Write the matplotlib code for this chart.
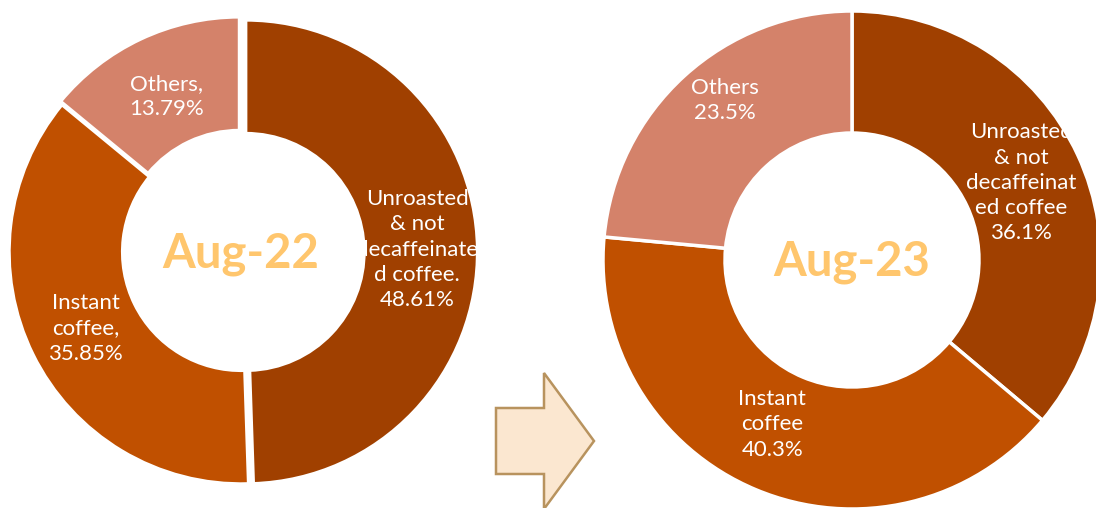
import matplotlib
matplotlib.use("Agg")
import matplotlib.pyplot as plt
from matplotlib.patches import Polygon

plt.rcParams["font.family"] = ["Lato", "DejaVu Sans"]

# data
categories = ["Unroasted & not decaffeinated coffee", "Instant coffee", "Others"]
aug22_values = [48.61, 35.85, 13.79]
aug23_values = [36.1, 40.3, 23.5]
aug22_labels = ["Unroasted\n& not\ndecaffeinate\nd coffee.\n48.61%",
                "Instant\ncoffee,\n35.85%",
                "Others,\n13.79%"]
aug23_labels = ["Unroasted\n& not\ndecaffeinat\ned coffee\n36.1%",
                "Instant\ncoffee\n40.3%",
                "Others\n23.5%"]
titles = ["Aug-22", "Aug-23"]

colors = ["#A04000", "#C05000", "#D4826A"]
center_color = "#FFC66D"

W, H = 1096, 508
fig = plt.figure(figsize=(W / 100, H / 100), dpi=100)
fig.patch.set_facecolor("white")


def donut_axes(cx, cy, r):
    # cx, cy in image pixels (y from top)
    return fig.add_axes([(cx - r) / W, (H - cy - r) / H, 2 * r / W, 2 * r / H])


def draw_donut(ax, values, labels, title, label_pos, explode, hole):
    ax.pie(values, colors=colors, startangle=90, counterclock=False,
           explode=explode, radius=1.0,
           wedgeprops=dict(width=1 - hole, edgecolor="white", linewidth=2.5))
    for txt, (x, y) in zip(labels, label_pos):
        ax.text(x, y, txt, ha="center", va="center", color="white",
                fontsize=16, linespacing=1.33, zorder=5)
    ax.text(0, -0.01, title, ha="center", va="center", color=center_color,
            fontsize=34, fontweight="bold", zorder=5)
    ax.set_xlim(-1, 1)
    ax.set_ylim(-1, 1)
    ax.set_aspect("equal")
    ax.axis("off")


ax1 = donut_axes(241, 252, 232)
draw_donut(ax1, aug22_values, aug22_labels, titles[0],
           [(0.76, 0.01), (-0.67, -0.33), (-0.32, 0.67)],
           [0.02, 0.0, 0.015], 0.51)

ax2 = donut_axes(852, 260, 249)
draw_donut(ax2, aug23_values, aug23_labels, titles[1],
           [(0.68, 0.31), (-0.32, -0.66), (-0.51, 0.64)],
           [0, 0, 0], 0.51)

# arrow between the two charts
bg = fig.add_axes([0, 0, 1, 1], zorder=-1)
bg.set_xlim(0, W)
bg.set_ylim(H, 0)
bg.axis("off")
arrow = Polygon([(496, 408), (544, 408), (544, 373), (594, 441),
                 (544, 509), (544, 474), (496, 474)],
                closed=True, facecolor="#FBE7D0", edgecolor="#B8935E", linewidth=1.8)
bg.add_patch(arrow)

fig.savefig("out.png", dpi=100, facecolor="white")
